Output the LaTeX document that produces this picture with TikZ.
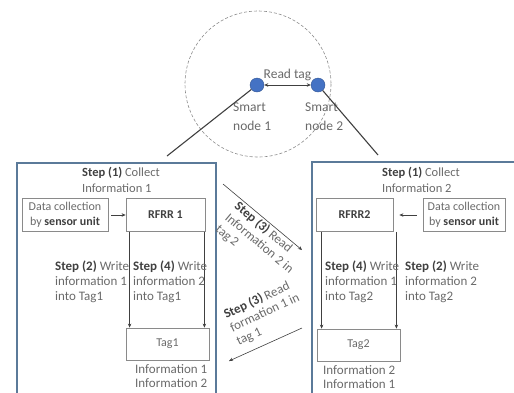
\documentclass[tikz,border=0pt]{standalone}
\usepackage{fontspec}
\setmainfont{Carlito}
\definecolor{skInk}{HTML}{6A6A6A}
\definecolor{skDark}{HTML}{404040}
\definecolor{skGrey}{HTML}{8A8A8A}
\definecolor{skFrame}{HTML}{5B7A99}
\definecolor{skBlue}{HTML}{4472C4}
\usetikzlibrary{arrows.meta}
\newcommand\stpno[1]{\textbf{\color{skDark}Step (#1)}}

\begin{document}
\begin{tikzpicture}[
  x=1pt,y=-1pt,
  font=\fontsize{13}{14.8}\selectfont,
  box/.style={draw=skGrey,line width=0.8pt,text=skInk,align=center,
              minimum height=33pt,inner sep=1pt,font=\fontsize{12}{14.5}\selectfont},
  note/.style={text=skInk,align=left,anchor=north west,inner sep=0pt},
  head/.style={note,font=\fontsize{12.5}{16.5}\selectfont},
  big/.style={note,font=\fontsize{13.5}{19}\selectfont},
  frame/.style={draw=skFrame,line width=1.4pt},
  smart/.style={circle,fill=skBlue,draw=skBlue!75!black,minimum size=14pt,inner sep=0pt},
  link/.style={draw=skDark,line width=0.6pt},
  >={Stealth[length=4pt,width=3.5pt]}
]
\useasboundingbox (0,0) rectangle (514,392);

% the two smart nodes and their range
\draw[skGrey,densely dashed,line width=0.6pt] (258,84) circle[radius=73];
\node[smart] (n1) at (257,85) {};
\node[smart] (n2) at (318,85) {};
\draw[link,<->] (n1) -- (n2) node[midway,above=4pt,big,anchor=south] (rt) {Read tag};
\node[big] (sn1) at (233,103) {Smart\\node 1};
\node[big] (sn2) at (305,103) {Smart\\node 2};
\coordinate (c1) at (167,156);
\coordinate (c2) at (378,155);
\draw[skDark,line width=1.1pt] (n1) -- (c1);
\draw[skDark,line width=1.1pt] (n2) -- (c2);

% node 1
\draw[frame] (17,163) rectangle (216,400);
\node[head] (st1a) at (82,167) {\stpno{1} Collect\\Information 1};
\node[box,minimum width=86pt] (data1) at (65,215) {Data collection\\by \textbf{\color{skDark}sensor unit}};
\node[box,minimum width=79pt,font=\fontsize{12}{14.5}\selectfont\bfseries,text=skDark] (rfrr1) at (165.5,215) {RFRR 1};
\node[box,minimum width=83pt,minimum height=32pt] (tag1) at (167.5,344) {Tag1};
\draw[link,->,shorten <=3pt] (data1) -- (rfrr1);
\draw[link,->] ([xshift=4pt]tag1.north west |- rfrr1.south) -- ([xshift=4pt]tag1.north west);
\draw[link,->] ([xshift=-5pt]tag1.north east |- rfrr1.south) -- ([xshift=-5pt]tag1.north east);
\node[note] (st2a) at (55,261) {\stpno{2} Write\\information 1\\into Tag1};
\node[note] (st4a) at (133,261) {\stpno{4} Write\\information 2\\into Tag1};
\node[note] (inf1) at (135,364) {Information 1\\Information 2};

% node 2
\draw[frame] (312,162) rectangle (520,400);
\node[head] (st1b) at (382,167) {\stpno{1} Collect\\Information 2};
\node[box,minimum width=77pt,font=\fontsize{12}{14.5}\selectfont\bfseries,text=skDark] (rfrr2) at (354.5,215) {RFRR2};
\node[box,minimum width=82pt] (data2) at (464,215) {Data collection\\by \textbf{\color{skDark}sensor unit}};
\node[box,minimum width=83pt,minimum height=32pt] (tag2) at (358.5,345) {Tag2};
\draw[link,->,shorten <=6pt,shorten >=6pt] (data2) -- (rfrr2);
\draw[link,->] ([xshift=5pt]tag2.north west |- rfrr2.south) -- ([xshift=5pt]tag2.north west);
\draw[link,->] ([xshift=-4pt]tag2.north east |- rfrr2.south) -- ([xshift=-4pt]tag2.north east);
\node[note] (st4b) at (325,261) {\stpno{4} Write\\information 1\\into Tag2};
\node[note] (st2b) at (405,261) {\stpno{2} Write\\information 2\\into Tag2};
\node[note] (inf2) at (323,365) {Information 2\\Information 1};

% reading each other's tag
\coordinate (r2a) at (223,184);
\coordinate (r2b) at (302,250);
\coordinate (r1a) at (302,328);
\coordinate (r1b) at (229,361);
\draw[link,->] (r2a) -- (r2b);
\draw[link,->] (r1a) -- (r1b);
\node[note,rotate=-40] (st3a) at (240,200) {\stpno{3} Read\\Information 2 in\\tag 2};
\node[note,rotate=25] (st3b) at (222,310) {\stpno{3} Read\\formation 1 in\\tag 1};
\end{tikzpicture}
\end{document}
